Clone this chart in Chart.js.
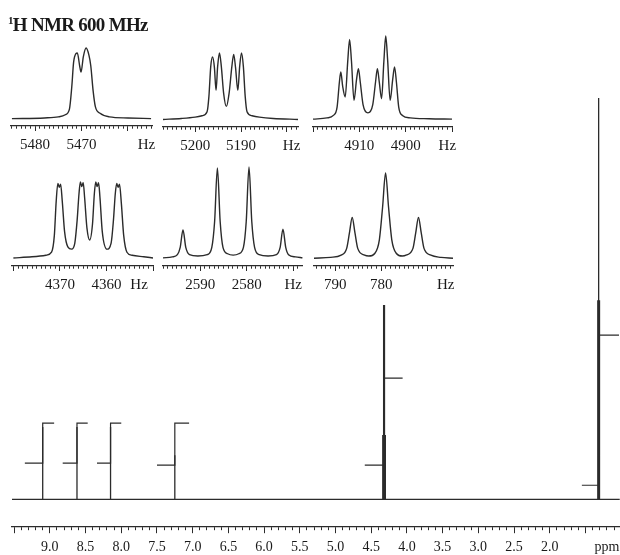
<!DOCTYPE html>
<html>
<head>
<meta charset="utf-8">
<script src="https://cdn.jsdelivr.net/npm/chart.js@4"></script>
<style>
  html, body { margin: 0; padding: 0; background: #fff; }
  #wrap { position: relative; width: 620px; height: 555px; overflow: hidden; }
  #wrap canvas { position: absolute; }
  #title {
    position: absolute; left: 8px; top: 15px;
    font: bold 19px/19px 'Liberation Serif', serif; letter-spacing: -0.7px;
    color: #1a1a1a; white-space: nowrap;
  }
  #title sup { font-size: 11px; vertical-align: 7px; line-height: 0; }
</style>
</head>
<body>
<div id="wrap">
  <canvas id="main" width="620" height="562" style="left:0;top:0"></canvas>
  <div id="title"><sup>1</sup>H NMR 600 MHz</div>
</div>
<script>
// --- main spectrum (ppm) ---
const ppmMin = 1.02, ppmMax = 9.53;
const peakPpm    = [9.10, 8.62, 8.15, 7.25, 4.338, 4.326, 4.314, 4.302, 1.327, 1.315, 1.303];
const peakHeight = [18,   18,   18,   11,   16,    48.4,  48.4,  16,    49.6,  100,   49.6];

// integration steps
const integralPpm  = [9.10, 8.62, 8.15, 7.25, 4.32, 1.315];
const integralFrom = [9.35, 8.82, 8.34, 7.50, 4.59, 1.55];
const integralTo   = [8.94, 8.47, 8.00, 7.05, 4.06, 1.03];
const integralLow  = [9.0,  9.0,  9.0,  8.5,  8.5,  3.5];
const integralHigh = [19.0, 19.0, 19.0, 19.0, 30.2, 40.9];

const ppmLabels = [9.0, 8.5, 8.0, 7.5, 7.0, 6.5, 6.0, 5.5, 5.0, 4.5, 4.0, 3.5, 3.0, 2.5, 2.0];
const ppmUnitAt = 1.2;

// --- expansions (Hz, relative intensity) ---
const inset1Hz  = [5485, 5478, 5475, 5473.5, 5472.6, 5472.1, 5471.7, 5471.2, 5470.9, 5470.4, 5470.1, 5469.6, 5469.0, 5468.4, 5468.0, 5467.5, 5467.0, 5466, 5464, 5460, 5455];
const inset1Int = [0.5,  1.5,  3,    6,      14,     45,     80,     92,     93,     75,     66,     88,     100,    90,     75,     40,     17,     8,    3,    1.5,  0.5];

const inset2Hz  = [5207, 5203, 5200, 5198.5, 5197.4, 5197.0, 5196.6, 5196.2, 5195.8, 5195.45, 5195.1, 5194.7, 5194.3, 5193.8, 5193.2, 5192.6, 5192.0, 5191.6, 5191.2, 5190.7, 5190.3, 5189.9, 5189.5, 5189.1, 5188.7, 5187.6, 5186, 5183, 5177.6];
const inset2Int = [0.5,  2,    4,    6,      12,     35,     80,     94,     78,     44,      80,     100,    80,     40,     20,     40,     80,     98,     78,     44,     80,     100,    80,     35,     12,     6,      4,    2,    0.5];

const inset3Hz  = [4920, 4917, 4915.6, 4914.8, 4914.3, 4914.0, 4913.6, 4913.05, 4912.5, 4912.1, 4911.7, 4911.15, 4910.6, 4910.2, 4909.8, 4909.2, 4908.15, 4907.1, 4906.5, 4906.1, 4905.7, 4905.2, 4904.7, 4904.3, 4903.9, 4903.35, 4902.8, 4902.4, 4902.0, 4901.5, 4900.7, 4899, 4895, 4890];
const inset3Int = [0.5,  2,    5,      15,     45,     57,     40,     27,      70,     96,     70,     23,      48,     61,     45,     18,     8,       18,     45,     61,     45,     25,     70,     100,    72,     23,      48,     63,     45,     15,     5,      2,    1,    0.5];

const inset4Hz  = [4380, 4376, 4373, 4371.8, 4371.2, 4370.8, 4370.45, 4370.15, 4369.85, 4369.5, 4369.0, 4368.3, 4367.5, 4366.8, 4366.3, 4365.9, 4365.6, 4365.3, 4365.0, 4364.7, 4364.2, 4363.6, 4363.0, 4362.6, 4362.3, 4362.0, 4361.7, 4361.4, 4360.9, 4359.9, 4359.0, 4358.5, 4358.1, 4357.8, 4357.5, 4357.2, 4356.8, 4356.3, 4355.6, 4354.5, 4352, 4350];
const inset4Int = [0.5,  2,    4,    8,      30,     75,     98,      93,      97,      75,     35,     15,     12,     20,     50,     85,     100,    94,     99,     80,     40,     24,     45,     85,     100,    94,     99,     80,     35,     12,     20,     50,     85,     98,     93,     97,     72,     30,     8,      4,      2,    0.5];

const inset5Hz  = [2598, 2596, 2594.9, 2594.3, 2593.7, 2593.1, 2592.3, 2590.5, 2588.5, 2587.5, 2586.9, 2586.3, 2585.7, 2585.1, 2584.1, 2582.9, 2581.7, 2580.7, 2580.1, 2579.5, 2578.9, 2578.3, 2577.3, 2575.4, 2573.6, 2572.8, 2572.2, 2571.6, 2571.0, 2569.5, 2568];
const inset5Int = [0.5,  1.5,  4,      12,     31,     12,     4,      2.5,    4,      12,     40,     99,     40,     12,     5,      3.5,    5,      12,     40,     100,    40,     12,     4,      2.5,    4,      12,     32,     12,     4,      1.5,    0.5];

const inset6Hz  = [794.6, 791, 788.7, 787.5, 786.9, 786.3, 785.7, 785.1, 783.6, 782.7, 781.4, 780.4, 779.7, 779.05, 778.4, 777.7, 776.7, 775.4, 774.6, 773.1, 772.5, 771.9, 771.3, 770.7, 769.2, 767, 764.4];
const inset6Int = [0.5,   1.5, 4,     12,    30,    48,    30,    12,    4,     3,     6,     22,    60,    100,    60,    22,    6,     3,     4,     12,    30,    48,    30,    12,    4,     1.5, 0.5];

const inset1Labels = [5480, 5470], inset2Labels = [5200, 5190], inset3Labels = [4910, 4900];
const inset4Labels = [4370, 4360], inset5Labels = [2590, 2580], inset6Labels = [790, 780];
const insetUnitAt = [5456, 5179, 4891, 4353, 2570, 766];

const ink = '#2b2b2b';
const serif = "'Liberation Serif', 'Times New Roman', serif";
const near = (a, b) => Math.abs(a - b) < 1e-6;

// spectrum trace: flat baseline with a spike for every line
const specPoints = [{x: ppmMax, y: 0}];
peakPpm.forEach((p, i) => {
    specPoints.push({x: p, y: 0}, {x: p, y: peakHeight[i]}, {x: p, y: 0});
});
specPoints.push({x: ppmMin, y: 0});

const integralSets = integralPpm.map((p, i) => ({
    data: [
        {x: integralFrom[i], y: integralLow[i]},
        {x: p, y: integralLow[i]},
        {x: p, y: integralHigh[i]},
        {x: integralTo[i], y: integralHigh[i]},
    ],
    borderColor: ink, borderWidth: 1.2, pointRadius: 0, tension: 0, clip: false,
}));

// canvas is 562 tall (bottom clipped by the wrapper) so the axis lands at y=526
new Chart(document.getElementById('main'), {
    type: 'line',
    data: {
        datasets: [
            { data: specPoints, borderColor: ink, borderWidth: 1.3, pointRadius: 0, tension: 0, clip: false },
            ...integralSets,
        ]
    },
    options: {
        responsive: false,
        animation: false,
        events: [],
        layout: { padding: { left: 12, right: 0, top: 0, bottom: 0 } },
        plugins: { legend: { display: false }, tooltip: { enabled: false } },
        scales: {
            x: {
                type: 'linear', reverse: true, min: ppmMin, max: ppmMax,
                border: { display: true, color: ink, width: 1.2 },
                grid: {
                    drawOnChartArea: false, tickLength: 7, color: ink, lineWidth: 1,
                    tickBorderDash: ctx => near(ctx.tick.value * 2, Math.round(ctx.tick.value * 2)) ? [] : [3, 10],
                },
                ticks: {
                    stepSize: 0.1, includeBounds: false, autoSkip: false, maxRotation: 0, minRotation: 0,
                    padding: 6, color: '#1a1a1a', font: { family: serif, size: 14 },
                    callback: v => {
                        if (near(v, ppmUnitAt)) return 'ppm';
                        const l = ppmLabels.find(t => near(t, v));
                        return l !== undefined ? l.toFixed(1) : '';
                    }
                }
            },
            y: { display: false, min: -6.7, max: 124.4 }
        }
    }
});

// --- expansions ---
const insets = [
    { hz: inset1Hz, val: inset1Int, labels: inset1Labels, unit: insetUnitAt[0], hzHigh: 5485.2, hzLow: 5454.8, left: 11,  right: 152, axisY: 126,   baseY: 119,   topY: 48 },
    { hz: inset2Hz, val: inset2Int, labels: inset2Labels, unit: insetUnitAt[1], hzHigh: 5207.0, hzLow: 5177.6, left: 163, right: 298, axisY: 126.5, baseY: 119.3, topY: 52.7 },
    { hz: inset3Hz, val: inset3Int, labels: inset3Labels, unit: insetUnitAt[2], hzHigh: 4920.0, hzLow: 4890.0, left: 313, right: 452, axisY: 126.7, baseY: 119.3, topY: 36 },
    { hz: inset4Hz, val: inset4Int, labels: inset4Labels, unit: insetUnitAt[3], hzHigh: 4380.3, hzLow: 4350.0, left: 12,  right: 153, axisY: 266,   baseY: 258.3, topY: 181.7 },
    { hz: inset5Hz, val: inset5Int, labels: inset5Labels, unit: insetUnitAt[4], hzHigh: 2598.0, hzLow: 2568.1, left: 163, right: 302, axisY: 266,   baseY: 258.3, topY: 167 },
    { hz: inset6Hz, val: inset6Int, labels: inset6Labels, unit: insetUnitAt[5], hzHigh: 794.6,  hzLow: 764.4,  left: 314, right: 453, axisY: 266.7, baseY: 259.3, topY: 173.3 },
];

const wrap = document.getElementById('wrap');
const side = 20, topPad = 4, tickLen = 5, tickPad = 5.5, labelH = 18;
const scaleH = tickLen + labelH + tickPad * 2;

insets.forEach(ins => {
    const cv = document.createElement('canvas');
    const w = Math.round(ins.right - ins.left) + side * 2;
    const h = Math.round(ins.axisY - ins.topY + topPad + scaleH);
    cv.width = w; cv.height = h;
    cv.style.left = Math.round(ins.left - side) + 'px';
    cv.style.top = Math.round(ins.topY - topPad) + 'px';
    wrap.appendChild(cv);

    const pxPerUnit = (ins.baseY - ins.topY) / 100;
    const yMin = -(ins.axisY - ins.baseY) / pxPerUnit;

    new Chart(cv, {
        type: 'line',
        data: {
            datasets: [{
                data: ins.hz.map((x, i) => ({ x, y: ins.val[i] })),
                borderColor: ink, borderWidth: 1.4, pointRadius: 0,
                cubicInterpolationMode: 'monotone', clip: false,
            }]
        },
        options: {
            responsive: false,
            animation: false,
            events: [],
            layout: { padding: { left: side, right: side, top: topPad, bottom: 0 } },
            plugins: { legend: { display: false }, tooltip: { enabled: false } },
            scales: {
                x: {
                    type: 'linear', reverse: true, min: ins.hzLow, max: ins.hzHigh,
                    border: { display: true, color: ink, width: 1.2 },
                    grid: {
                        drawOnChartArea: false, tickLength: tickLen, color: ink, lineWidth: 1,
                        tickBorderDash: ctx => (Math.round(ctx.tick.value) % 10 === 0) ? [] : [2.5, 10],
                    },
                    ticks: {
                        stepSize: 1, includeBounds: false, autoSkip: false, maxRotation: 0, minRotation: 0,
                        padding: tickPad, color: '#1a1a1a', font: { family: serif, size: 15 },
                        callback: v => {
                            if (near(v, ins.unit)) return 'Hz';
                            return ins.labels.includes(v) ? String(v) : '';
                        }
                    }
                },
                y: { display: false, min: yMin, max: 100 }
            }
        }
    });
});
</script>
</body>
</html>
